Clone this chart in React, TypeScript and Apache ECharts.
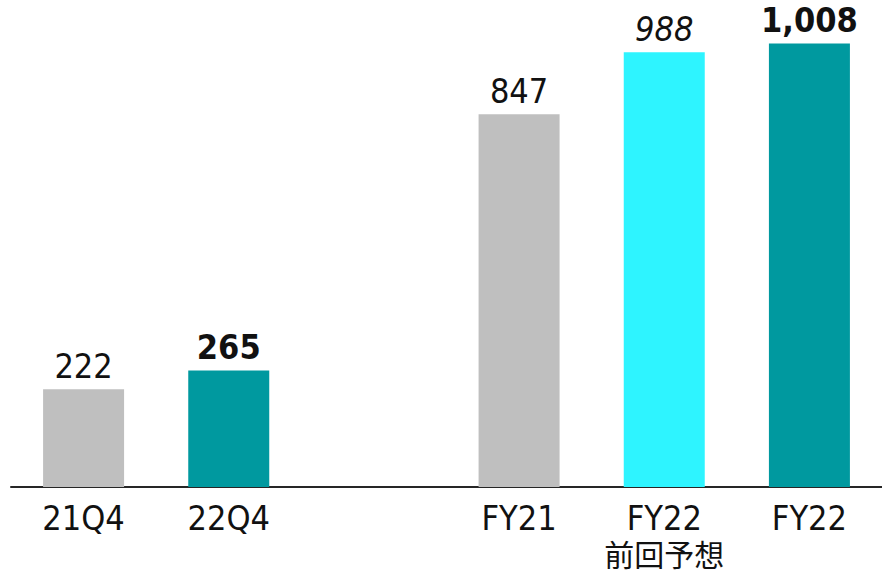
import React, { useEffect, useRef } from "react";
import * as echarts from "echarts";

const categories = ["21Q4", "22Q4", "", "FY21", "FY22\n{jp|前回予想}", "FY22"];
const values: (number | null)[] = [222, 265, null, 847, 988, 1008];
const barColors = ["#BFBFBF", "#00999F", "#FFFFFF", "#BFBFBF", "#2EF4FF", "#00999F"];
const labelWeights = ["normal", "bold", "normal", "normal", "normal", "bold"];
const labelStyles = ["normal", "normal", "normal", "normal", "italic", "normal"];

const FONT = "'DejaVu Sans Condensed', 'DejaVu Sans', 'Noto Sans CJK JP', sans-serif";

export default function App() {
  const ref = useRef<HTMLDivElement>(null);
  useEffect(() => {
    if (!ref.current) return;
    const chart = echarts.init(ref.current, null, { renderer: "svg" });
    const data = values.map((v, i) => ({
      value: v,
      itemStyle: { color: barColors[i] },
      label: {
        fontWeight: labelWeights[i],
        fontStyle: labelStyles[i],
      },
    }));
    chart.setOption({
      animation: false,
      grid: { left: 11, top: 3, height: 484, width: 876, containLabel: false },
      xAxis: {
        type: "category",
        data: categories,
        axisTick: { show: false },
        axisLine: { lineStyle: { color: "#262626", width: 2 } },
        axisLabel: {
          interval: 0,
          margin: 12,
          color: "#111",
          fontFamily: FONT,
          fontSize: 34,
          lineHeight: 38,
          rich: {
            jp: {
              fontFamily: "'Noto Sans CJK JP', sans-serif",
              fontSize: 30,
              lineHeight: 28,
              padding: [4, 0, 0, 0],
              color: "#111",
            },
          },
        },
      },
      yAxis: {
        type: "value",
        min: 0,
        max: 1100,
        show: false,
        splitLine: { show: false },
      },
      series: [
        {
          type: "bar",
          data,
          barWidth: 81,
          label: {
            show: true,
            position: "top",
            distance: 6,
            color: "#111",
            fontFamily: FONT,
            fontSize: 34,
            formatter: (p: any) =>
              p.value == null ? "" : Number(p.value).toLocaleString("en-US"),
          },
        },
      ],
    });
    return () => chart.dispose();
  }, []);
  return (
    <div
      ref={ref}
      style={{ position: "absolute", left: 0, top: 0, width: 882, height: 571 }}
    />
  );
}
